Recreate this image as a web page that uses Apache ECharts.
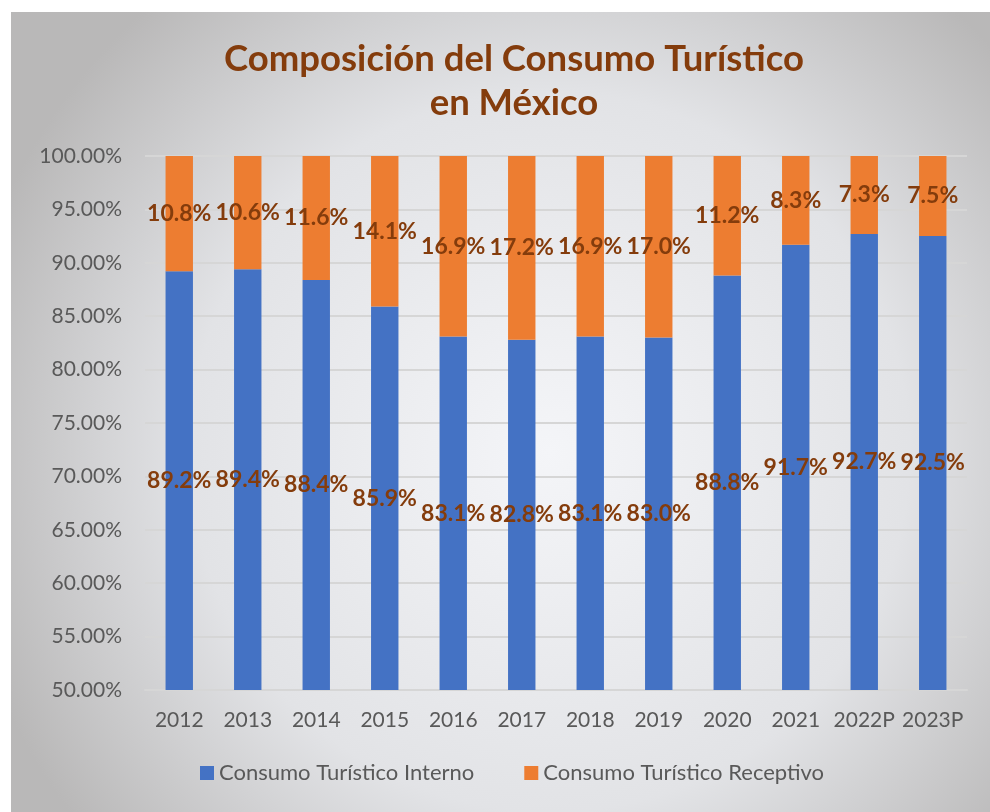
<!DOCTYPE html>
<html>
<head>
<meta charset="utf-8">
<script src="https://cdn.jsdelivr.net/npm/echarts@6/dist/echarts.min.js"></script>
<style>
  html, body { margin: 0; padding: 0; background: #ffffff; }
  #main { position: absolute; left: 11px; top: 12px; width: 979px; height: 800px; }
</style>
</head>
<body>
<div id="main"></div>
<script>
// datos
var years = ['2012', '2013', '2014', '2015', '2016', '2017', '2018', '2019', '2020', '2021', '2022P', '2023P'];
var interno = [89.2, 89.4, 88.4, 85.9, 83.1, 82.8, 83.1, 83.0, 88.8, 91.7, 92.7, 92.5];
var receptivo = [10.8, 10.6, 11.6, 14.1, 16.9, 17.2, 16.9, 17.0, 11.2, 8.3, 7.3, 7.5];
var seriesNames = ['Consumo Turístico Interno', 'Consumo Turístico Receptivo'];

var brown = '#843C0C';
var txtFont = 'Lato, "Open Sans", sans-serif';

var myChart = echarts.init(document.getElementById('main'));

var labelOpt = {
    show: true,
    position: 'inside',
    color: brown,
    fontWeight: 'bold',
    fontSize: 23,
    fontFamily: txtFont,
    formatter: function (p) { return p.value.toFixed(1) + '%'; }
};

var option = {
    backgroundColor: {
        type: 'radial', x: 0.55, y: 0.55, r: 0.75,
        colorStops: [
            { offset: 0, color: '#f4f5f8' },
            { offset: 0.6, color: '#e2e3e6' },
            { offset: 1, color: '#b9b8b8' }
        ]
    },
    title: {
        text: 'Composición del Consumo Turístico\nen México',
        left: 498,
        textAlign: 'center',
        top: 20,
        textStyle: {
            color: brown,
            fontSize: 36.5,
            fontWeight: 'bold',
            fontFamily: txtFont,
            lineHeight: 44
        }
    },
    legend: {
        data: seriesNames,
        bottom: 23,
        left: 184,
        itemWidth: 14,
        itemHeight: 14,
        itemGap: 50,
        icon: 'rect',
        textStyle: { color: '#595959', fontSize: 22, fontFamily: txtFont }
    },
    grid: {
        left: 134,
        right: 23,
        top: 144,
        bottom: 122
    },
    xAxis: {
        type: 'category',
        data: years,
        axisTick: { show: false },
        axisLine: { show: true, lineStyle: { color: '#d6d6d6', width: 2 } },
        axisLabel: { interval: 0, color: '#595959', fontSize: 21, fontFamily: txtFont, margin: 20 }
    },
    yAxis: {
        type: 'value',
        min: 50,
        max: 100,
        interval: 5,
        axisLine: { show: false },
        axisTick: { show: false },
        splitLine: { lineStyle: { color: '#d6d6d6', width: 2 } },
        axisLabel: {
            color: '#595959', fontSize: 21, fontFamily: txtFont, margin: 23,
            formatter: function (v) { return v.toFixed(2) + '%'; }
        }
    },
    series: [{
        name: seriesNames[0],
        type: 'bar',
        stack: 'total',
        barWidth: '40%',
        data: interno,
        itemStyle: { color: '#4472C4' },
        label: labelOpt
    }, {
        name: seriesNames[1],
        type: 'bar',
        stack: 'total',
        barWidth: '40%',
        data: receptivo,
        itemStyle: { color: '#ED7D31' },
        label: labelOpt
    }]
};
myChart.setOption(option);
</script>
</body>
</html>
